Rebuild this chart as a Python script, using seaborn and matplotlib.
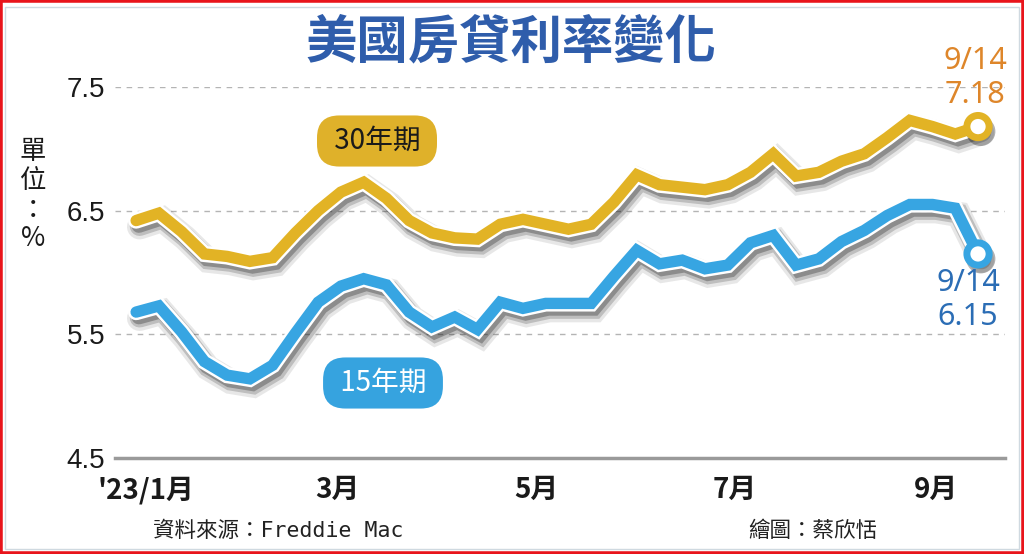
import numpy as np
import pandas as pd
import matplotlib
matplotlib.use("Agg")
import matplotlib.pyplot as plt
import matplotlib.dates as mdates
import matplotlib.patheffects as pe
from matplotlib.patches import Rectangle
import seaborn as sns

# Freddie Mac weekly mortgage rates
weeks = pd.date_range("2022-12-29", "2023-09-14", freq="7D")
rate_30 = [6.42, 6.48, 6.33, 6.15, 6.13, 6.09, 6.12, 6.32, 6.50, 6.65,
           6.73, 6.60, 6.42, 6.32, 6.28, 6.27, 6.39, 6.43, 6.39, 6.35,
           6.39, 6.57, 6.79, 6.71, 6.69, 6.67, 6.71, 6.81, 6.96, 6.78,
           6.81, 6.90, 6.96, 7.09, 7.23, 7.18, 7.12, 7.18]
rate_15 = [5.68, 5.73, 5.52, 5.28, 5.17, 5.14, 5.25, 5.51, 5.76, 5.89,
           5.95, 5.90, 5.68, 5.56, 5.64, 5.54, 5.76, 5.71, 5.75, 5.75,
           5.75, 5.97, 6.18, 6.07, 6.10, 6.03, 6.06, 6.24, 6.30, 6.06,
           6.11, 6.25, 6.34, 6.46, 6.55, 6.55, 6.52, 6.15]
terms = ["30年期", "15年期"]
month_ticks = ["2023-01-01", "2023-03-01", "2023-05-01", "2023-07-01", "2023-09-01"]
month_labels = ["'23/1月", "3月", "5月", "7月", "9月"]
y_ticks = [4.5, 5.5, 6.5, 7.5]

gold = "#e2b325"
blue = "#37a5e2"
palette = {"30年期": gold, "15年期": blue}

df = pd.DataFrame({"week": weeks, "30年期": rate_30, "15年期": rate_15})
df = df.melt(id_vars="week", var_name="term", value_name="rate")

sns.set_style("white")
plt.rcParams["font.family"] = ["Noto Sans CJK TC", "DejaVu Sans"]

fig = plt.figure(figsize=(10.24, 5.54), dpi=100)
ax = fig.add_axes([115 / 1024, 96 / 554, 890 / 1024, 371 / 554])

lw = 8.2
sns.lineplot(data=df, x="week", y="rate", hue="term", hue_order=terms,
             palette=palette, linewidth=lw, legend=False, ax=ax,
             solid_joinstyle="miter", solid_capstyle="round")

effects = [
    pe.SimpleLineShadow(offset=(2.5, -4.5), shadow_color="#1a1a1a", alpha=0.10, linewidth=lw + 10),
    pe.SimpleLineShadow(offset=(2.5, -4), shadow_color="#1a1a1a", alpha=0.20, linewidth=lw + 6),
    pe.SimpleLineShadow(offset=(2, -3.5), shadow_color="#1a1a1a", alpha=0.30, linewidth=lw + 2.5),
    pe.Stroke(linewidth=lw + 3.5, foreground="white"),
    pe.Normal(),
]
for line in ax.lines:
    line.set_path_effects(effects)
    line.set_zorder(3)

# end-point markers
for vals, col in [(rate_30, gold), (rate_15, blue)]:
    ax.plot(weeks[-1], vals[-1], "o", ms=16, mfc="white", mec=col, mew=5, zorder=5,
            path_effects=[pe.SimpleLineShadow(offset=(2, -3.5), alpha=0.3), pe.Normal()])

# axes styling
ax.set_ylim(4.5, 7.5)
x0 = mdates.date2num(pd.Timestamp("2023-01-01"))
ax.set_xlim(x0 - 9.5, x0 + 264.3)
ax.set_yticks(y_ticks)
ax.set_yticklabels([f"{v:.1f}" for v in y_ticks], fontsize=20, family="Liberation Sans",
                   color="#1a1a1a")
ax.set_xticks([mdates.date2num(pd.Timestamp(d)) for d in month_ticks])
ax.set_xticklabels(month_labels, fontsize=20, fontweight="bold", color="#1a1a1a")
ax.tick_params(axis="y", length=0, pad=7)
ax.tick_params(axis="x", length=7, width=1.8, color="#9a9a9a", pad=6)
ax.set_xlabel("")
ax.set_ylabel("")
for side in ["top", "right", "left"]:
    ax.spines[side].set_visible(False)
ax.spines["bottom"].set_color("#9a9a9a")
ax.spines["bottom"].set_linewidth(2.5)
ax.spines["bottom"].set_zorder(2)
ax.yaxis.grid(True, linestyle=(0, (4, 4)), color="#b4b4b4", linewidth=1)
ax.xaxis.grid(False)
ax.set_axisbelow(True)

# title and side texts
fig.text(511 / 1024, 1 - 42 / 554, "美國房貸利率變化", ha="center", va="center",
         fontsize=37, fontweight="bold", color="#2f5dab")
fig.text(33 / 1024, 1 - 195 / 554, "單\n位\n：\n%", ha="center", va="center",
         fontsize=19, linespacing=1.08, color="#1a1a1a")

# series labels
box = "round,pad=0.38,rounding_size=0.8"
fig.text(377 / 1024, 1 - 141 / 554, " 30年期 ", ha="center", va="center", fontsize=20,
         color="#1a1a1a", bbox=dict(boxstyle=box, fc="#dfb12a", ec="none"))
fig.text(383 / 1024, 1 - 383 / 554, " 15年期 ", ha="center", va="center", fontsize=20,
         color="white", bbox=dict(boxstyle=box, fc="#36a3df", ec="none"))

# end value labels
fig.text(975 / 1024, 1 - 78 / 554, "9/14\n7.18", ha="center", va="center", fontsize=22,
         family="Noto Sans", color="#de862a", linespacing=1.15)
fig.text(968 / 1024, 1 - 300 / 554, "9/14\n6.15", ha="center", va="center", fontsize=22,
         family="Noto Sans", color="#2b6db5", linespacing=1.15)

# footer
fig.text(153 / 1024, 1 - 531 / 554, "資料來源：Freddie Mac", ha="left", va="center",
         fontsize=15.5, family=["DejaVu Sans Mono", "Noto Sans CJK TC"], color="#222222")
fig.text(748 / 1024, 1 - 531 / 554, "繪圖：蔡欣恬", ha="left", va="center",
         fontsize=15.5, color="#222222")

# frame
fig.patches.append(Rectangle((0, 0), 1, 1, transform=fig.transFigure, fill=False,
                             edgecolor="#e8141b", linewidth=4))
fig.patches.append(Rectangle((5 / 1024, 5 / 554), 1014 / 1024, 542 / 554,
                             transform=fig.transFigure, fill=False,
                             edgecolor="#cfd9e0", linewidth=1))

fig.savefig("out.png", dpi=100)
